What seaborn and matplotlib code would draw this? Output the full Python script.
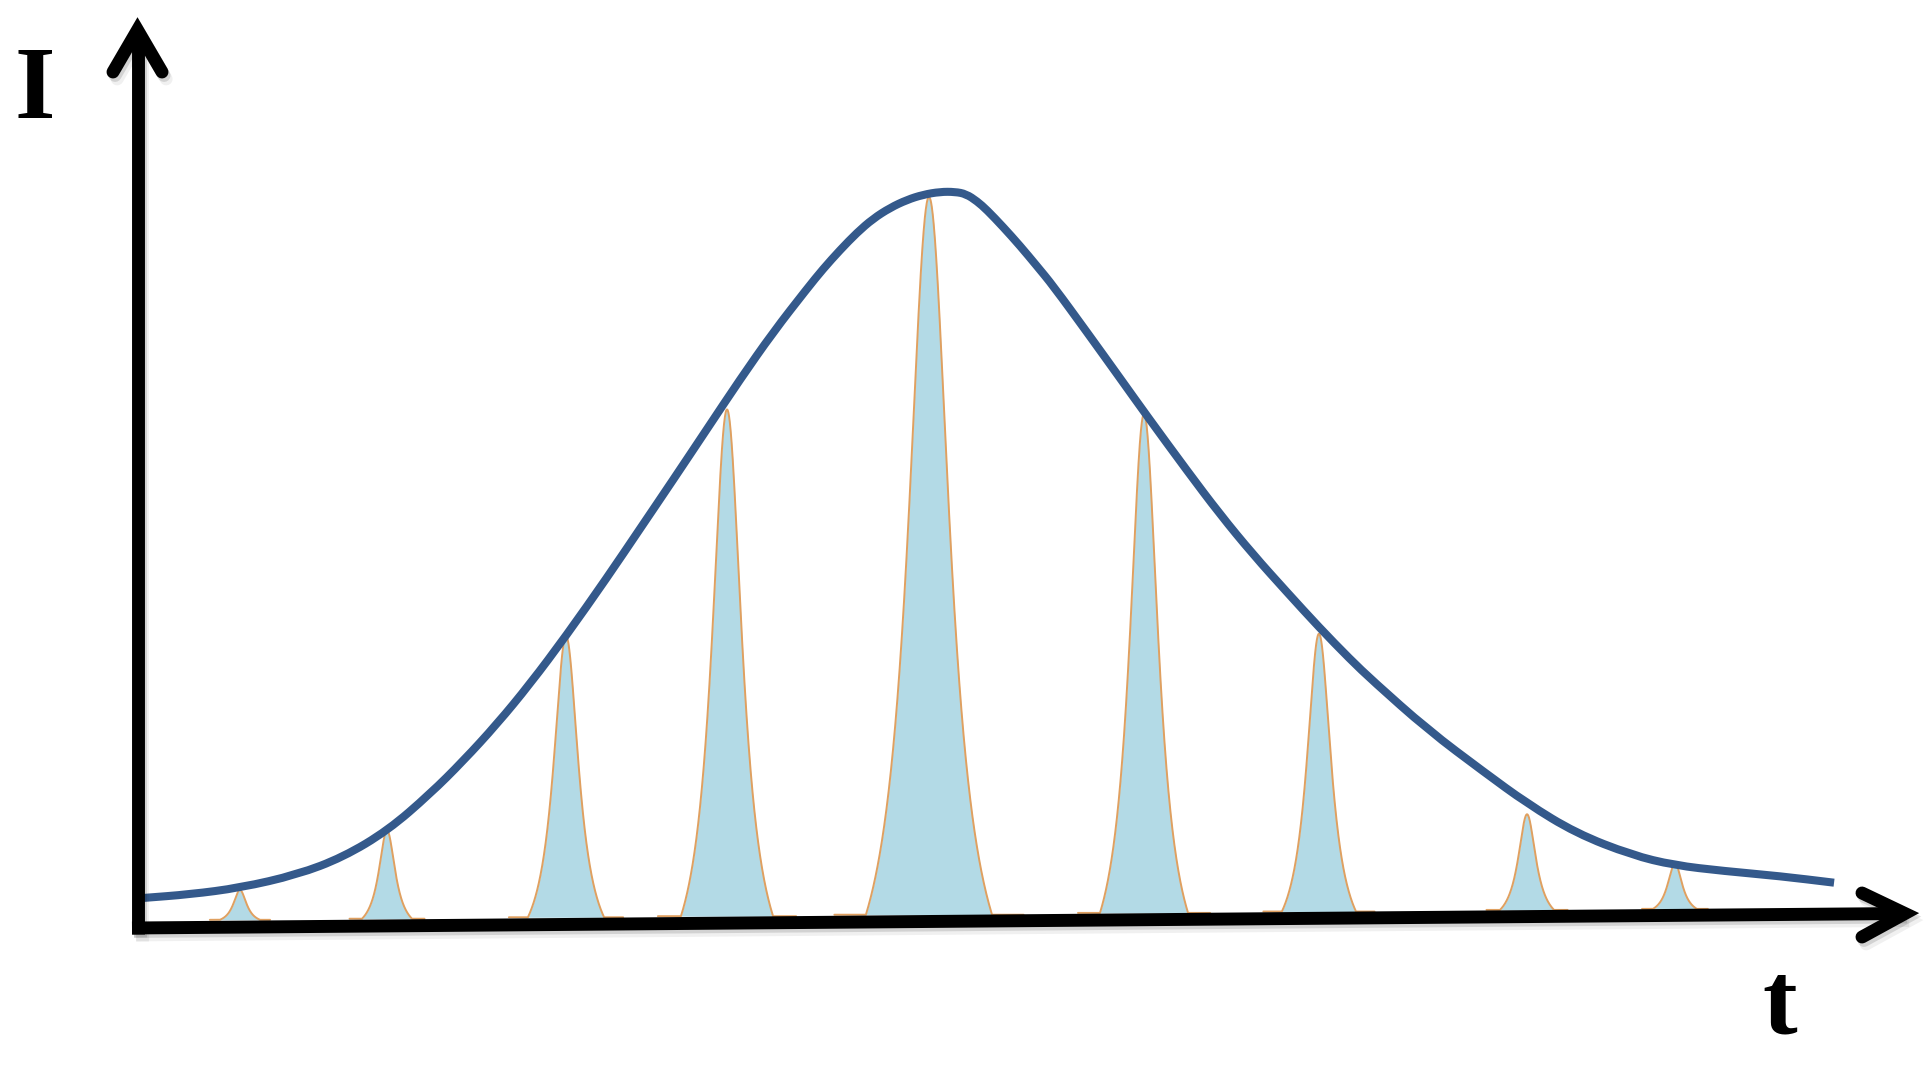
import numpy as np
import pandas as pd
import matplotlib
matplotlib.use("Agg")
import matplotlib.pyplot as plt
import matplotlib.transforms as mtransforms
import matplotlib.patheffects as pe
from matplotlib.path import Path
from matplotlib.patches import PathPatch
import seaborn as sns

# ---------------- data (arbitrary units) ----------------
# envelope curve I(t)
env_t = [0.018, 0.294, 0.588, 0.924, 1.194, 1.459, 1.706, 1.900, 2.100, 2.294,
         2.506, 2.747, 2.941, 3.135, 3.335, 3.529, 3.724, 3.924, 4.018, 4.118,
         4.218, 4.312, 4.412, 4.512, 4.606, 4.706, 4.794, 4.859, 4.924, 4.982,
         5.076, 5.176, 5.276, 5.371, 5.571, 5.765, 5.924, 6.159, 6.353, 6.547,
         6.747, 6.935, 7.118, 7.253, 7.576, 7.906, 8.159, 8.447, 8.776, 9.024,
         9.318, 9.647, 9.965]
env_I = [0.033, 0.038, 0.047, 0.065, 0.089, 0.126, 0.176, 0.221, 0.272, 0.327,
         0.393, 0.473, 0.540, 0.607, 0.677, 0.745, 0.810, 0.870, 0.897, 0.923,
         0.947, 0.966, 0.981, 0.992, 0.999, 1.003, 1.003, 1.000, 0.990, 0.978,
         0.955, 0.929, 0.901, 0.874, 0.810, 0.747, 0.695, 0.620, 0.560, 0.505,
         0.453, 0.405, 0.361, 0.331, 0.264, 0.206, 0.163, 0.122, 0.092, 0.078,
         0.070, 0.063, 0.054]

# individual pulses: centre, tip height, local baseline, half-width at half-max, half-width at base
peak_t = [0.588, 1.453, 2.506, 3.453, 4.641, 5.906, 6.935, 8.159, 9.029]
peak_I = [0.044, 0.126, 0.393, 0.704, 0.996, 0.698, 0.396, 0.148, 0.081]
peak_base = [0.003, 0.0045, 0.0065, 0.008, 0.010, 0.0125, 0.0144, 0.0166, 0.018]
peak_hwhm = [0.048, 0.060, 0.092, 0.111, 0.152, 0.106, 0.089, 0.065, 0.053]
peak_foot = [0.118, 0.147, 0.224, 0.271, 0.371, 0.259, 0.218, 0.159, 0.129]

x_label = "t"
y_label = "I"

# ---------------- figure ----------------
W, H = 1928, 1069
sns.set_theme(style="white")
plt.rcParams["font.family"] = ["Liberation Serif"]

ENV_COLOR = "#34598b"
FILL = "#b3dae6"
EDGE = "#e0a060"

fig = plt.figure(figsize=(W / 100, H / 100), dpi=100)
fig.patch.set_facecolor("white")
ax = fig.add_axes([0, 0, 1, 1])
ax.set_xlim(-140 / 170, (W - 140) / 170)
ax.set_ylim((922 - H) / 728, 922 / 728)
ax.axis("off")

rows = []
for k, (tc, ip, b, g, f) in enumerate(zip(peak_t, peak_I, peak_base, peak_hwhm, peak_foot)):
    tt = np.linspace(tc - 1.5 * f, tc + 1.5 * f, 601)
    lor = 1.0 / (1.0 + ((tt - tc) / g) ** 2)
    lf = 1.0 / (1.0 + (f / g) ** 2)
    shape = np.clip((lor - lf) / (1.0 - lf), 0, None)
    yy = b + (ip - b) * shape
    ax.fill_between(tt, b, yy, color=FILL, lw=0, zorder=2)
    rows.append(pd.DataFrame({"t": tt, "I": yy, "peak": k}))
peaks = pd.concat(rows, ignore_index=True)

sns.lineplot(data=peaks, x="t", y="I", hue="peak", palette=[EDGE] * len(peak_t),
             legend=False, linewidth=1.4, estimator=None, sort=False, ax=ax, zorder=3)

# envelope: smooth quadratic-Bezier rendering through the read points (data coords)
pts = np.column_stack([env_t, env_I])
mids = (pts[:-1] + pts[1:]) / 2
verts = [pts[0], mids[0]]
codes = [Path.MOVETO, Path.LINETO]
for i in range(1, len(pts) - 1):
    verts += [pts[i], mids[i]]
    codes += [Path.CURVE3, Path.CURVE3]
verts.append(pts[-1])
codes.append(Path.LINETO)
ax.add_patch(PathPatch(Path(verts, codes), facecolor="none", edgecolor=ENV_COLOR,
                       lw=5.8, capstyle="butt", zorder=4, transform=ax.transData))

# ---------------- hand-drawn style axes (pixel geometry) ----------------
pix = mtransforms.Affine2D().scale(1, -1).translate(0, H)
shadow = [pe.SimpleLineShadow(offset=(1.5, -2.5), shadow_color="black", alpha=0.12),
          pe.SimpleLineShadow(offset=(3, -5), shadow_color="black", alpha=0.06),
          pe.Normal()]
akw = dict(transform=pix, color="black", lw=9.3, zorder=6, path_effects=shadow,
           solid_joinstyle="miter")

ax.plot([137.5, 137.5], [934, 30], solid_capstyle="butt", **akw)
ax.plot([113, 137.5, 162], [72, 30, 72], solid_capstyle="round", **akw)
ax.plot([132, 1905], [928, 913.5], solid_capstyle="butt", **akw)
ax.plot([1862, 1905, 1862], [893, 913.5, 937], solid_capstyle="round", **akw)

tkw = dict(transform=pix, ha="center", va="baseline", fontsize=75, fontweight="bold",
           family="Liberation Serif", color="black", zorder=7)
ax.text(35, 118, y_label, **tkw)
ax.text(1780, 1033, x_label, **tkw)

fig.savefig("out.png", dpi=100, facecolor="white")
